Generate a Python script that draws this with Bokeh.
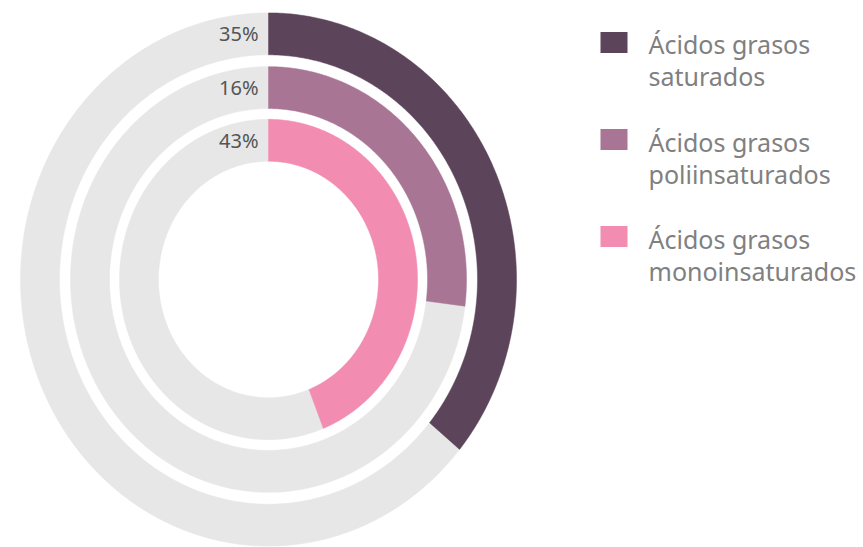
import numpy as np
from bokeh.plotting import figure
from bokeh.models import Range1d, ColumnDataSource
from bokeh.embed import file_html
from bokeh.resources import INLINE
from bokeh.core.properties import value

# ---- data ----
series_line1 = ["Ácidos grasos", "Ácidos grasos", "Ácidos grasos"]
series_line2 = ["saturados", "poliinsaturados", "monoinsaturados"]
pct_labels = ["35%", "16%", "43%"]
arc_share = [36, 27, 44]          # share of each ring drawn in colour
colors = ["#5c445a", "#a87694", "#f28cb0"]
track_color = "#e6e7e6"

# ---- geometry (styling) ----
W, H = 863, 547
CX, CY = 268, 279
YS = 1.075                 # vertical stretch of the rings
outer_r = [248, 198, 149]
thick = 39

def arc_poly(r_out, r_in, f0, f1, n=240):
    t = np.linspace(f0, f1, n) * 2 * np.pi
    xo = CX + r_out * np.sin(t)
    yo = CY - r_out * np.cos(t) * YS
    xi = CX + r_in * np.sin(t[::-1])
    yi = CY - r_in * np.cos(t[::-1]) * YS
    return list(np.concatenate([xo, xi])), list(np.concatenate([yo, yi]))

xs, ys, fills = [], [], []
for share, col, ro in zip(arc_share, colors, outer_r):
    f = share / 100.0
    x, y = arc_poly(ro, ro - thick, f, 1.0)
    xs.append(x); ys.append(y); fills.append(track_color)
    x, y = arc_poly(ro, ro - thick, 0.0, f)
    xs.append(x); ys.append(y); fills.append(col)

p = figure(width=W, height=H, x_range=Range1d(0, W), y_range=Range1d(H, 0),
           output_backend="svg", toolbar_location=None,
           x_axis_location=None, y_axis_location=None, min_border=0)
p.outline_line_color = None
p.xgrid.visible = False
p.ygrid.visible = False
p.background_fill_color = "white"

p.patches(xs="xs", ys="ys", fill_color="c", line_color="c", line_width=0.5,
          source=ColumnDataSource(dict(xs=xs, ys=ys, c=fills)))

# percentage labels, centred on each ring band at the top
lab_y = [CY - (ro - thick / 2) * YS for ro in outer_r]
p.text(x=[CX - 10] * 3, y=lab_y, text=pct_labels, text_align="right",
       text_baseline="middle", text_font=value("Noto Sans"), text_font_size="20px",
       text_color="#555555")

# legend
sw_y = [42, 139, 236]
p.rect(x=[613.5] * 3, y=sw_y, width=27, height=21,
       fill_color=colors, line_color=None)
line1_base = [43, 141, 238]
p.text(x=[648] * 3, y=line1_base, text=series_line1, text_align="left",
       text_baseline="alphabetic", text_font=value("Noto Sans"), text_font_size="25px",
       text_color="#808080")
p.text(x=[648] * 3, y=[b + 32 for b in line1_base], text=series_line2, text_align="left",
       text_baseline="alphabetic", text_font=value("Noto Sans"), text_font_size="25px",
       text_color="#808080")

open("out.html", "w").write(file_html(p, INLINE))
